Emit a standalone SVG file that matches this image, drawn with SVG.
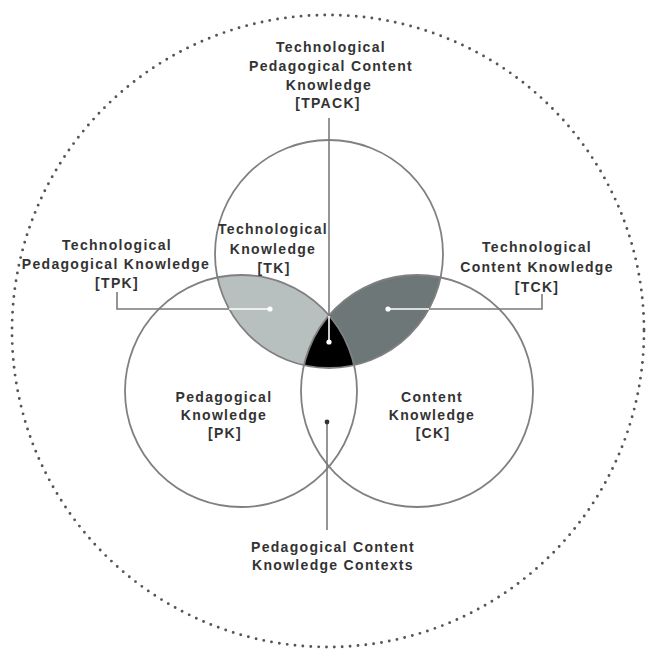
<svg xmlns="http://www.w3.org/2000/svg" width="646" height="650" viewBox="0 0 646 650">
<style>
  text{font-family:"Liberation Sans",Arial,sans-serif;font-size:14px;font-weight:bold;fill:#333;text-anchor:middle;letter-spacing:1.3px}
  .ring{fill:none;stroke:#808080;stroke-width:1.8}
  .conn{stroke:#7a7a7a;stroke-width:1.6;fill:none}
  .wline{stroke:#fff;stroke-width:1.6;fill:none}
  .wdot{fill:#fff}
</style>
<defs>
  <clipPath id="cT"><circle cx="329" cy="254" r="114"/></clipPath>
  <clipPath id="cP"><circle cx="241" cy="391" r="116"/></clipPath>
  <clipPath id="cC"><circle cx="417" cy="391" r="116"/></clipPath>
</defs>
<rect width="646" height="650" fill="#fff"/>

<g id="context">
  <circle cx="328" cy="331" r="316" fill="none" stroke="#555" stroke-width="2.9" stroke-linecap="round" stroke-dasharray="0 7.9"/>
</g>

<g id="tpk-region" clip-path="url(#cT)">
  <circle cx="241" cy="391" r="116" fill="#b8bfbf"/>
</g>
<g id="tck-region" clip-path="url(#cT)">
  <circle cx="417" cy="391" r="116" fill="#6d7777"/>
</g>
<g id="tpack-region" clip-path="url(#cT)">
  <g clip-path="url(#cP)">
    <circle cx="417" cy="391" r="116" fill="#000"/>
  </g>
</g>

<g id="tk"><circle class="ring" cx="329" cy="254" r="114"/></g>
<g id="pk"><circle class="ring" cx="241" cy="391" r="116"/></g>
<g id="ck"><circle class="ring" cx="417" cy="391" r="116"/></g>

<g id="connectors">
  <line class="conn" x1="329" y1="118" x2="329" y2="316"/>
  <line class="wline" x1="329" y1="316" x2="329" y2="342"/>
  <circle class="wdot" cx="329" cy="342" r="2.6"/>
  <polyline class="conn" points="117,292 117,309 229,309"/>
  <line class="wline" x1="229" y1="309" x2="270" y2="309"/>
  <circle class="wdot" cx="270" cy="309" r="2.6"/>
  <polyline class="conn" points="542,294 542,309 429,309"/>
  <line class="wline" x1="429" y1="309" x2="388" y2="309"/>
  <circle class="wdot" cx="388" cy="309" r="2.6"/>
  <line class="conn" x1="327" y1="422" x2="327" y2="530"/>
  <circle cx="327" cy="422" r="2.4" fill="#333"/>
</g>

<g id="label-tpack">
  <text x="331" y="52">Technological</text>
  <text x="331" y="71">Pedagogical Content</text>
  <text x="329" y="90">Knowledge</text>
  <text x="328" y="108">[TPACK]</text>
</g>
<g id="label-tk">
  <text x="273" y="234">Technological</text>
  <text x="273" y="254">Knowledge</text>
  <text x="274" y="273">[TK]</text>
</g>
<g id="label-tpk">
  <text x="117" y="250">Technological</text>
  <text x="116" y="269">Pedagogical Knowledge</text>
  <text x="117" y="288">[TPK]</text>
</g>
<g id="label-tck">
  <text x="537" y="252">Technological</text>
  <text x="537" y="272">Content Knowledge</text>
  <text x="537" y="292">[TCK]</text>
</g>
<g id="label-pk">
  <text x="224" y="402">Pedagogical</text>
  <text x="224" y="420">Knowledge</text>
  <text x="225" y="438">[PK]</text>
</g>
<g id="label-ck">
  <text x="432" y="402">Content</text>
  <text x="432" y="420">Knowledge</text>
  <text x="433" y="438">[CK]</text>
</g>
<g id="label-pck">
  <text x="333" y="552">Pedagogical Content</text>
  <text x="333" y="570">Knowledge Contexts</text>
</g>
</svg>
